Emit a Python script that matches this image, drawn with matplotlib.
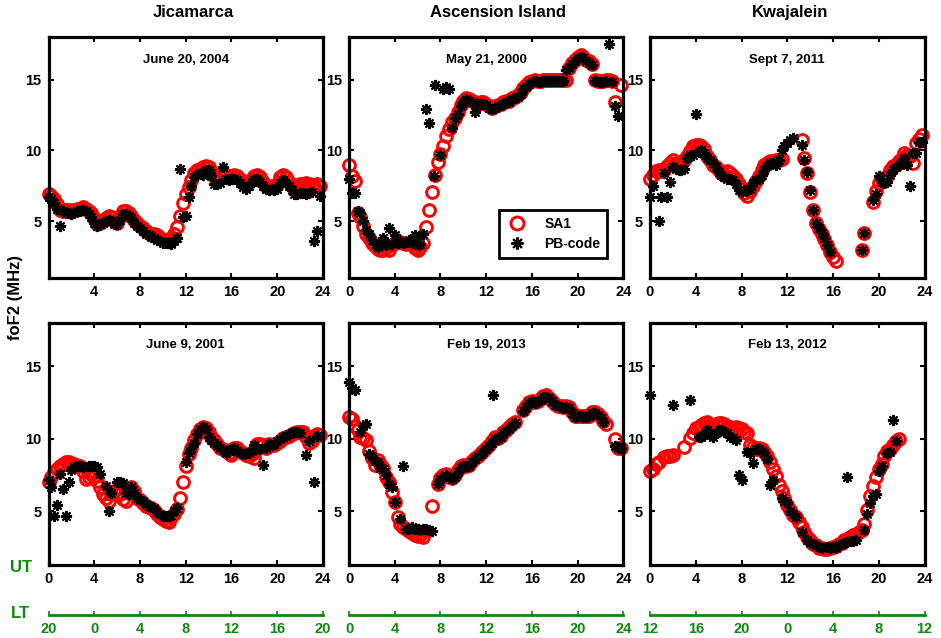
import numpy as np
import matplotlib
matplotlib.use("Agg")
import matplotlib.pyplot as plt

plt.rcParams['font.family'] = ['Liberation Sans', 'DejaVu Sans']
plt.rcParams['font.weight'] = 'bold'

N = np.nan
ut = np.arange(96) * 0.25          # 15-min sampling, UT hours

################################################################################
# foF2 values (MHz), one row = 2 hours
jic04_sa1 = [6.9, 6.8, 6.6, 6.2, 5.8, 5.7, 5.8, 5.8,
             5.7, 5.8, 5.9, 5.9, 6.0, 5.9, 5.7, 5.6,
             5.2, 4.8, 4.9, 5.0, 5.2, 5.4, 5.3, 5.0,
             4.9, 5.3, 5.7, 5.7, 5.6, 5.4, 5.1, 4.9,
             4.7, 4.5, 4.3, 4.2, 4.1, 4.1, 4.0, 3.8,
             3.7, 3.7, 3.7, 3.8, 4.1, 4.6, 5.4, 6.3,
             6.9, 7.4, 7.9, 8.4, 8.6, 8.7, 8.8, 8.9,
             8.8, 8.5, 8.2, 8.0, 8.3, 8.4, 8.3, 8.1,
             8.2, 8.3, 8.2, 8.0, 7.7, 7.6, 7.8, 8.0,
             8.2, 8.3, 8.1, 7.8, 7.5, 7.4, 7.5, 7.4,
             7.6, 8.1, 8.3, 8.1, 7.8, 7.5, 7.3, 7.4,
             7.6, 7.6, 7.7, 7.6, 7.5, 7.5, 7.6, 7.5]
jic04_pb = [6.7, 6.6, 6.3, 5.9, 4.7, 5.7, 5.6, 5.6,
            5.5, 5.6, 5.7, 5.7, 5.8, 5.7, 5.5, 5.3,
            4.9, 4.7, 4.8, 4.9, 5.0, 5.1, 5.0, 4.8,
            4.8, 5.1, 5.5, 5.5, 5.4, 5.2, 4.9, 4.7,
            4.5, 4.3, 4.1, 4.0, 3.9, 3.8, 3.7, 3.6,
            3.5, 3.5, 3.5, 3.4, 3.6, 3.8, 8.7, 5.3,
            5.4, 6.7, 7.5, 8.1, 8.3, 8.4, 8.3, 8.6,
            8.6, 8.2, 7.6, 7.6, 7.7, 8.8, 8.0, 7.9,
            8.0, 8.0, 7.9, 7.7, 7.4, 7.3, 7.5, 7.8,
            8.0, 8.0, 7.8, 7.5, 7.3, 7.2, 7.3, 7.2,
            7.3, 7.7, 7.9, 7.7, 7.5, 7.2, 6.9, 6.9,
            7.0, 7.0, 6.9, 7.0, 7.1, 3.6, 4.3, 6.8]

asc00_sa1 = [9.0, 8.2, 7.85, 5.6, 5.3, 4.7, 4.1, 3.8,
             3.5, 3.25, 3.05, 3.0, 3.0, 3.1, 3.0, 3.3,
             3.5, 3.55, 3.55, 3.5, 3.4, 3.5, 3.4, 3.15,
             3.0, 3.2, 3.5, 4.6, 5.8, 7.1, 8.25, 9.15,
             9.75, 10.3, 11.0, 11.5, 12.0, 12.3, 12.7, 13.2,
             13.5, 13.7, 13.6, 13.5, 13.4, 13.3, 13.4, 13.4,
             13.3, 13.1, 13.0, 13.1, 13.2, 13.3, 13.4, 13.5,
             13.5, 13.7, 13.8, 13.9, 14.1, 14.4, 14.6, 14.8,
             14.9, 15.0, 14.9, 14.9, 15.0, 15.0, 15.0, 15.0,
             15.0, 15.0, 15.0, 15.0, 15.0, 15.8, 16.2, 16.4,
             16.6, 16.7, 16.6, 16.4, 16.3, 16.1, 15.0, 14.9,
             14.9, 14.9, 15.0, 15.0, 14.9, 13.4, N, 14.6]
asc00_pb = [8.0, 7.0, 7.0, 5.7, 5.6, 5.0, 4.4, 4.1,
            3.7, 3.4, 3.2, 3.3, 3.85, 3.3, 4.5, 3.4,
            4.0, 3.5, 3.6, 3.5, 3.55, 3.7, 3.5, 4.0,
            3.3, 3.4, 4.1, 12.9, 11.9, N, 14.6, N,
            9.7, 14.3, 14.5, 14.3, 11.6, 12.3, 12.6, 13.1,
            13.4, 13.6, 13.5, 13.4, 12.7, 13.3, 13.3, 13.3,
            13.2, 13.0, 12.9, 13.0, 13.1, 13.2, 13.3, 13.4,
            13.4, 13.6, 13.7, 13.8, 14.0, 14.3, 14.5, 14.7,
            14.8, 14.9, 14.8, 14.8, 14.9, 14.9, 14.9, 14.9,
            14.9, 14.9, 14.9, 14.9, 15.7, 15.8, 16.1, 16.3,
            16.5, 16.6, 16.5, 16.3, 16.2, 16.0, 14.9, 14.8,
            14.8, 14.8, 14.9, 17.5, 14.8, 13.1, 12.4, N]
asc00_pb_t_extra = [7.4]
asc00_pb_extra = [8.2]

kwa11_sa1 = [7.95, 8.3, 8.55, 8.6, 8.55, 8.65, 8.9, 9.1,
             9.3, 9.1, 9.1, 9.2, 9.35, 9.6, 9.95, 10.3,
             10.4, 10.4, 10.3, 10.1, 9.6, 9.35, 9.0, 8.8,
             8.65, 8.4, 8.3, 8.55, 8.4, 8.2, 7.95, 7.6,
             7.25, 7.0, 6.75, 7.15, 7.5, 7.85, 8.2, 8.65,
             9.0, 9.1, 9.25, 9.25, 9.3, 9.35, 9.4, N,
             N, N, N, N, N, 10.7, 9.5, 8.4,
             7.1, 5.8, 4.85, 4.45, 4.1, 3.75, 3.3, 2.8,
             2.45, 2.2, N, N, N, N, N, N,
             N, N, 3.0, 4.2, N, N, 6.35, 7.15,
             7.7, 7.95, 7.85, 8.2, 8.65, 8.9, 9.0, 9.25,
             9.5, 9.85, 9.7, 9.6, 9.1, 10.5, 10.8, 11.1]
kwa11_pb = [6.7, 7.5, N, 5.0, 6.7, 8.4, 6.7, 7.8,
            8.8, 8.7, 8.6, 8.6, 8.7, 9.5, 9.7, 9.7,
            12.6, 9.9, 10.0, 9.8, 9.5, 9.3, 9.1, 8.8,
            8.5, 8.3, 8.1, 8.0, 8.0, 7.9, 7.6, 7.2,
            7.1, 7.2, 7.2, 7.3, 7.7, 7.9, 8.0, 8.3,
            8.6, 8.9, 9.1, 9.1, 9.0, 9.3, 10.0, 10.3,
            10.5, 10.7, 10.9, N, N, 10.4, 9.3, 8.5,
            7.2, 5.8, 4.9, 4.5, 4.2, 3.8, 3.3, 2.8,
            N, N, N, N, N, N, N, N,
            N, N, 3.0, 4.2, N, N, 6.5, 6.9,
            8.2, 7.8, 7.7, 7.8, 8.3, 8.6, 8.8, 9.0,
            9.2, 9.5, 9.0, 7.5, 9.8, 9.8, 10.6, 10.6]

jic01_sa1 = [7.05, 7.35, 7.7, 7.9, 8.1, 8.25, 8.4, 8.4,
             8.3, 8.25, 8.15, 8.1, 7.8, 7.25, 7.35, 7.6,
             7.45, 7.1, 6.65, 6.2, 5.95, 5.75, 6.2, 6.4,
             6.3, 6.2, 5.85, 5.75, 6.3, 6.65, 6.4, 5.95,
             5.8, 5.6, 5.4, 5.3, 5.25, 5.1, 4.8, 4.6,
             4.5, 4.35, 4.3, 4.6, 4.8, 5.15, 5.9, 7.0,
             8.15, 8.95, 9.4, 9.9, 10.35, 10.7, 10.85, 10.75,
             10.45, 10.1, 9.9, 9.65, 9.4, 9.3, 9.2, 9.05,
             8.9, 9.4, 9.4, 9.2, 9.0, 8.9, 8.85, 8.95,
             8.7, 9.65, 9.65, 9.55, 9.4, 9.65, 9.55, 9.6,
             9.75, 9.85, 10.05, 10.1, 10.2, 10.35, 10.4, 10.45,
             10.5, 10.45, 10.1, 9.75, 9.85, 10.2, 10.35, 10.3]
jic01_pb = [7.15, 6.65, 4.7, 5.45, 7.6, 6.55, 4.7, 7.0,
            7.85, 8.05, 8.15, 8.1, 8.05, N, 8.1, 8.1,
            8.1, 8.05, 7.6, N, 6.75, 5.0, 6.25, N,
            7.0, 7.0, 6.95, 6.3, 6.2, 6.65, 6.3, 5.95,
            5.8, 5.75, 5.5, 5.4, 5.3, 5.25, 4.95, 4.8,
            4.7, 4.65, 4.7, 4.75, 5.05, 5.25, N, N,
            8.4, 9.05, 9.4, 9.75, 10.35, 10.7, 10.8, 10.7,
            10.1, 9.9, 9.75, 9.55, 9.4, 9.25, 9.05, 9.2,
            9.3, 9.4, 9.2, 9.05, 8.95, 9.0, 9.05, 9.2,
            9.55, 9.4, 9.3, 8.2, 9.4, 9.65, 9.6, 9.65,
            9.85, 10.0, 10.1, 10.2, 10.35, 10.4, 10.45, 10.45,
            10.4, N, 8.9, 9.85, N, 7.0, 10.2, N]

asc13_sa1 = [11.5, 11.4, 10.9, 10.6, 10.1, 10.05, 9.9, 9.15,
             8.7, 8.2, 8.55, 8.3, 8.0, 7.4, 7.05, 6.35,
             5.65, 4.6, 4.1, 3.95, 3.75, 3.65, 3.5, 3.4,
             3.3, 3.35, 3.25, N, N, 5.4, N, 6.9,
             7.3, 7.5, 7.6, 7.4, 7.3, 7.5, 7.85, 8.1,
             8.2, 8.15, 8.2, 8.45, 8.7, 8.85, 9.0, 9.2,
             9.4, 9.6, 9.85, 10.1, 10.05, 10.2, 10.45, 10.6,
             10.8, 11.0, 11.2, N, N, 12.0, 12.3, 12.55,
             12.65, 12.55, 12.65, 12.8, 12.95, 13.0, 12.85, 12.65,
             12.4, 12.3, 12.25, 12.2, 12.25, 12.2, 11.85, 11.55,
             11.6, 11.6, 11.55, 11.55, 11.6, 11.85, 11.85, 11.7,
             11.5, 11.25, 11.0, N, N, 10.0, 9.4, 9.4]
asc13_pb = [13.95, 13.5, 13.35, N, 10.45, 10.9, 11.05, 8.95,
            8.8, 8.45, 8.4, 8.0, 7.95, 7.5, 6.9, 6.7,
            5.65, N, 4.5, 8.1, 3.8, 3.8, 3.9, 3.75,
            3.8, 3.7, 3.8, 3.75, 3.7, 3.65, N, 6.9,
            7.25, 7.4, 7.5, 7.4, 7.25, 7.4, 7.75, 8.0,
            8.1, 8.1, 8.15, 8.4, 8.6, 8.8, 8.95, 9.1,
            9.3, 9.5, 9.75, 10.0, 10.0, 10.1, 10.4, 10.55,
            10.7, 10.9, 11.1, N, N, 11.95, 12.2, 12.5,
            12.6, 12.5, 12.6, 12.7, 12.9, 12.9, 12.8, 12.6,
            12.35, 12.25, 12.2, 12.15, 12.2, 12.15, 11.8, 11.5,
            11.55, 11.55, 11.5, 11.5, 11.55, 11.8, 11.8, 11.65,
            11.45, 11.2, N, N, N, 9.5, 9.4, 9.35]
asc13_pb_t_extra = [12.6]
asc13_pb_extra = [13.0]

kwa12_sa1 = [7.8, 7.9, 8.25, 8.4, N, 8.75, 8.85, 8.8,
             8.9, N, N, N, 9.45, N, 10.05, 10.4,
             10.75, 10.85, 10.95, 11.1, 11.15, 10.95, 10.9, 11.0,
             11.1, 11.1, 11.0, 10.9, 10.85, 10.75, 10.8, 10.75,
             10.7, 10.5, 10.4, 9.55, 9.45, 9.3, 9.35, 9.3,
             9.1, 8.8, 8.4, 7.9, 7.45, 6.85, 6.4, 5.9,
             5.45, 5.1, 4.75, 4.6, 4.25, 3.9, 3.55, 3.2,
             3.0, 2.75, 2.65, 2.5, 2.45, 2.4, 2.4, 2.45,
             2.55, 2.6, 2.75, 2.85, 3.0, 3.1, 3.2, 3.35,
             3.45, 3.55, 3.7, 4.15, 5.1, 6.05, 6.75, 7.35,
             7.9, 8.25, 8.85, 9.2, 9.3, 9.55, 9.85, 10.0,
             N, N, N, N, N, N, N, N]
kwa12_pb = [13.0, N, N, N, N, N, N, N,
            12.35, N, N, N, N, N, 12.7, N,
            N, 10.15, 10.1, 10.25, 10.6, 10.25, 10.1, 10.4,
            10.6, 10.6, 10.5, 10.4, 10.15, 10.05, 9.9, 7.5,
            7.2, N, 9.1, 9.0, 8.35, 9.3, 9.3, 9.2,
            9.0, 8.6, 6.8, 7.2, N, N, 5.9, 5.75,
            5.55, 5.0, 4.8, 4.6, N, 3.55, N, 3.0,
            2.85, 2.75, 2.65, 2.55, 2.5, N, 2.55, 2.5,
            2.55, 2.5, 2.65, 2.75, 2.8, 7.4, 2.95, 2.95,
            3.0, N, N, 3.7, 4.8, 5.55, 6.05, 6.2,
            7.8, 8.15, N, 9.0, 9.1, 11.3, 9.85, N,
            N, N, N, N, N, N, N, N]

stations = ['Jicamarca', 'Ascension Island', 'Kwajalein']
dates = ['June 20, 2004', 'May 21, 2000', 'Sept 7, 2011',
         'June 9, 2001', 'Feb 19, 2013', 'Feb 13, 2012']
lt_labels = [['20', '0', '4', '8', '12', '16', '20'],
             ['0', '4', '8', '12', '16', '20', '24'],
             ['12', '16', '20', '0', '4', '8', '12']]
ut_ticks = [0, 4, 8, 12, 16, 20, 24]

sa1_sets = [jic04_sa1, asc00_sa1, kwa11_sa1, jic01_sa1, asc13_sa1, kwa12_sa1]
pb_sets = [jic04_pb, asc00_pb, kwa11_pb, jic01_pb, asc13_pb, kwa12_pb]
pb_extra = {1: (asc00_pb_t_extra, asc00_pb_extra),
            4: (asc13_pb_t_extra, asc13_pb_extra)}

################################################################################
green = '#0b8a0b'
fig = plt.figure(figsize=(9.41, 6.38), dpi=100)

col_left = [48.5/941, 349/941, 650/941]
col_w = 274.5/941
row_bot = [1-278/638, 1-565/638]
row_h = [241/638, 242/638]
ylims = [(1, 18), (1.3, 18)]
title_x = [193/941, 498/941, 790/941]

sa1_style = dict(ls='none', marker='o', mfc='none', mec='red', ms=8.5,
                 mew=2.1, clip_on=False)
pb_style = dict(ls='none', marker=(8, 2, 0), color='k', ms=8, mew=1.5,
                clip_on=False)

axes = []
for k in range(6):
    r, c = divmod(k, 3)
    ax = fig.add_axes([col_left[c], row_bot[r], col_w, row_h[r]])
    ax.plot(ut, sa1_sets[k], label='SA1', **sa1_style)
    ax.plot(ut, pb_sets[k], label='PB-code', **pb_style)
    if k in pb_extra:
        ax.plot(pb_extra[k][0], pb_extra[k][1], **pb_style)
    ax.set_xlim(0, 24)
    ax.set_ylim(*ylims[r])
    ax.set_xticks(ut_ticks[1:] if k == 0 else ut_ticks)
    ax.set_yticks([5, 10, 15])
    ax.tick_params(direction='in', length=3.5, width=1.5, top=True, right=True,
                   labelsize=10.5, pad=5)
    for s in ax.spines.values():
        s.set_linewidth(2.3)
        s.set_zorder(3)
    ax.text(0.5, 0.91 if r else 0.905, dates[k], transform=ax.transAxes,
            ha='center', va='center', fontsize=9.5, fontweight='bold')
    axes.append(ax)

for c in range(3):
    fig.text(title_x[c], 0.981, stations[c], ha='center', va='center',
             fontsize=12, fontweight='bold')

leg = axes[1].legend(loc='lower right', bbox_to_anchor=(0.967, 0.055),
                     fontsize=10, markerscale=1.1, fancybox=False,
                     framealpha=1, edgecolor='k', borderpad=0.5,
                     handlelength=1.6, handletextpad=1.2, labelspacing=0.4)
leg.get_frame().set_linewidth(2)

fig.text(0.016, 0.534, 'foF2 (MHz)', rotation=90, ha='center', va='center',
         fontsize=12, fontweight='bold')

# local time axes under the bottom row
for c in range(3):
    lax = fig.add_axes([col_left[c], 1-615/638, col_w, 0.01])
    lax.patch.set_visible(False)
    for side in ['left', 'right', 'top']:
        lax.spines[side].set_visible(False)
    lax.spines['bottom'].set_color(green)
    lax.spines['bottom'].set_linewidth(2)
    lax.set_xlim(0, 24)
    lax.set_xticks(ut_ticks)
    lax.set_xticklabels(lt_labels[c])
    lax.set_yticks([])
    lax.tick_params(axis='x', direction='in', length=3, width=1.2,
                    colors=green, labelsize=10.5, pad=5)

fig.text(0.022, 1-568/638, 'UT', color=green, ha='center', va='center',
         fontsize=12, fontweight='bold')
fig.text(0.022, 1-613/638, 'LT', color=green, ha='center', va='center',
         fontsize=12, fontweight='bold')

fig.savefig('out.png', dpi=100)
